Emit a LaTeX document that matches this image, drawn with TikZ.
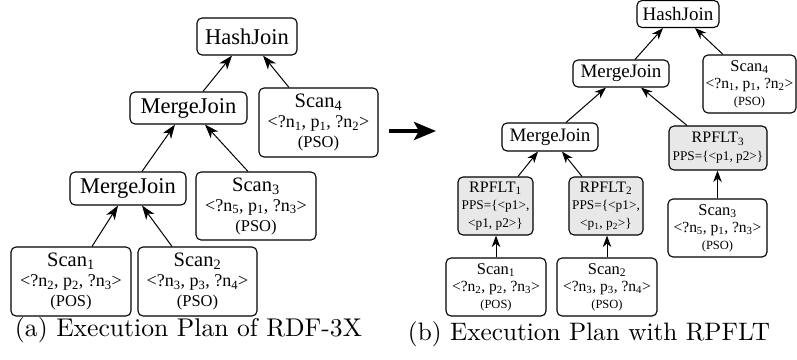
\documentclass[tikz,border=0pt]{standalone}
\usepackage{fontspec}
\usepackage{graphicx}
\newfontfamily\tms{Liberation Serif}
\usetikzlibrary{arrows.meta}
\newcommand\fsz[2]{\fontsize{#1}{#2}\selectfont}
\newcommand\sub[1]{\textsubscript{#1}}
\begin{document}
\begin{tikzpicture}[x=1pt,y=-1pt,
  box/.style={draw, rounded corners=5pt, line width=1.1pt, align=center, inner sep=0pt, font=\tms},
  gbox/.style={box, fill=gray!18},
  arr/.style={-{Stealth[length=14pt,width=10pt,inset=4pt]}, line width=1pt},
  arrs/.style={-{Stealth[length=11.5pt,width=8.5pt,inset=3.5pt]}, line width=1pt},
  bigarr/.style={-{Stealth[length=22pt,width=18pt,inset=5pt]}, line width=4pt},
  captext/.style={inner sep=0pt}]
\useasboundingbox (0,0) rectangle (797,359);
% ---------- left tree ----------
\node[box, minimum width=100pt, minimum height=37pt, font=\tms\fsz{22.5}{24}] (hjA) at (247,36.5) {HashJoin};
\node[box, minimum width=117pt, minimum height=32pt, font=\tms\fsz{22.5}{24}] (mjA1) at (188.5,108) {MergeJoin};
\node[box, minimum width=119pt, minimum height=69pt, font=\tms\fsz{18}{20}] (s4A) at (318.5,122.5)
  {{\fsz{20.5}{20}Scan\sub{4}}\\<?n\sub{1}, p\sub{1}, ?n\sub{2}>\\{\fsz{16.5}{20}(PSO)}};
\node[box, minimum width=116pt, minimum height=33pt, font=\tms\fsz{22.5}{24}] (mjA2) at (128,188.5) {MergeJoin};
\node[box, minimum width=120pt, minimum height=68pt, font=\tms\fsz{18}{20}] (s3A) at (256,206)
  {{\fsz{20.5}{20}Scan\sub{3}}\\<?n\sub{5}, p\sub{1}, ?n\sub{3}>\\{\fsz{16.5}{20}(PSO)}};
\node[box, minimum width=120pt, minimum height=69pt, font=\tms\fsz{18}{20}] (s1A) at (71,281.5)
  {{\fsz{20.5}{20}Scan\sub{1}}\\<?n\sub{2}, p\sub{2}, ?n\sub{3}>\\{\fsz{16.5}{20}(POS)}};
\node[box, minimum width=119pt, minimum height=69pt, font=\tms\fsz{18}{20}] (s2A) at (197.5,281.5)
  {{\fsz{20.5}{20}Scan\sub{2}}\\<?n\sub{3}, p\sub{3}, ?n\sub{4}>\\{\fsz{16.5}{20}(PSO)}};
\draw[arr] ([xshift=14.5pt]mjA1.north) -- ([xshift=-15pt]hjA.south);
\draw[arr] ([xshift=-29.5pt]s4A.north) -- ([xshift=16pt]hjA.south);
\draw[arr] ([xshift=14pt]mjA2.north) -- ([xshift=-13.5pt]mjA1.south);
\draw[arr] ([xshift=-8pt]s3A.north) -- ([xshift=16.5pt]mjA1.south);
\draw[arr] ([xshift=21pt]s1A.north) -- ([xshift=-10pt]mjA2.south);
\draw[arr] ([xshift=-25.5pt]s2A.north) -- ([xshift=14pt]mjA2.south);
\node[captext] (capA) at (188.5,330.5) {\resizebox{347pt}{!}{\fontsize{10}{12}\selectfont (a) Execution Plan of RDF-3X}};
% ---------- big arrow ----------
\coordinate (ba1) at (389,131);
\coordinate (ba2) at (436,131);
\draw[bigarr] (ba1) -- (ba2);
% ---------- right tree ----------
\node[box, minimum width=82pt, minimum height=27pt, font=\tms\fsz{19}{20}] (hjB) at (678,14) {HashJoin};
\node[box, minimum width=96pt, minimum height=27pt, font=\tms\fsz{19}{20}] (mjB1) at (621,73.5) {MergeJoin};
\node[box, minimum width=93pt, minimum height=58pt, font=\tms\fsz{15.5}{17}] (s4B) at (749.5,84)
  {{\fsz{16.5}{17}Scan\sub{4}}\\<?n\sub{1}, p\sub{1}, ?n\sub{2}>\\{\fsz{12.5}{17}(PSO)}};
\node[box, minimum width=96pt, minimum height=28pt, font=\tms\fsz{19}{20}] (mjB2) at (550,137) {MergeJoin};
\node[gbox, minimum width=98pt, minimum height=44pt, font=\tms\fsz{13.3}{18}] (r3) at (718,148)
  {{\fsz{16}{18}RPFLT\sub{3}}\\PPS=\{<p1, p2>\}};
\node[gbox, minimum width=75pt, minimum height=58pt, font=\tms\fsz{13.3}{17.5}] (r1) at (495.5,206)
  {{\fsz{16}{17.5}RPFLT\sub{1}}\\PPS=\{<p1>,\\<p1, p2>\}};
\node[gbox, minimum width=74pt, minimum height=58pt, font=\tms\fsz{13.3}{17.5}] (r2) at (606,206)
  {{\fsz{16}{17.5}RPFLT\sub{2}}\\PPS=\{<p1>,\\<p\sub{1}, p\sub{2}>\}};
\node[box, minimum width=99pt, minimum height=58pt, font=\tms\fsz{15.5}{17}] (s3B) at (717.5,228)
  {{\fsz{16.5}{17}Scan\sub{3}}\\<?n\sub{5}, p\sub{1}, ?n\sub{3}>\\{\fsz{12.5}{17}(PSO)}};
\node[box, minimum width=100pt, minimum height=58pt, font=\tms\fsz{15.5}{17}] (s1B) at (496,287)
  {{\fsz{16.5}{17}Scan\sub{1}}\\<?n\sub{2}, p\sub{2}, ?n\sub{3}>\\{\fsz{12.5}{17}(POS)}};
\node[box, minimum width=100pt, minimum height=58pt, font=\tms\fsz{15.5}{17}] (s2B) at (607,287)
  {{\fsz{16.5}{17}Scan\sub{2}}\\<?n\sub{3}, p\sub{3}, ?n\sub{4}>\\{\fsz{12.5}{17}(PSO)}};
\draw[arrs] ([xshift=14pt]mjB1.north) -- ([xshift=-15pt]hjB.south);
\draw[arrs] ([xshift=-26.5pt]s4B.north) -- ([xshift=17pt]hjB.south);
\draw[arrs] ([xshift=16pt]mjB2.north) -- ([xshift=-15pt]mjB1.south);
\draw[arrs] ([xshift=-31pt]r3.north) -- ([xshift=20pt]mjB1.south);
\draw[arrs] ([xshift=22.5pt]r1.north) -- ([xshift=-12pt]mjB2.south);
\draw[arrs] ([xshift=-24pt]r2.north) -- ([xshift=12pt]mjB2.south);
\draw[arrs] (s3B.north) -- (s3B.north |- r3.south);
\draw[arrs] (s1B.north) -- (s1B.north |- r1.south);
\draw[arrs] (s2B.north) -- (s2B.north |- r2.south);
\node[captext] (capB) at (589,334) {\resizebox{362pt}{!}{\fontsize{10}{12}\selectfont (b) Execution Plan with RPFLT}};
\end{tikzpicture}
\end{document}
